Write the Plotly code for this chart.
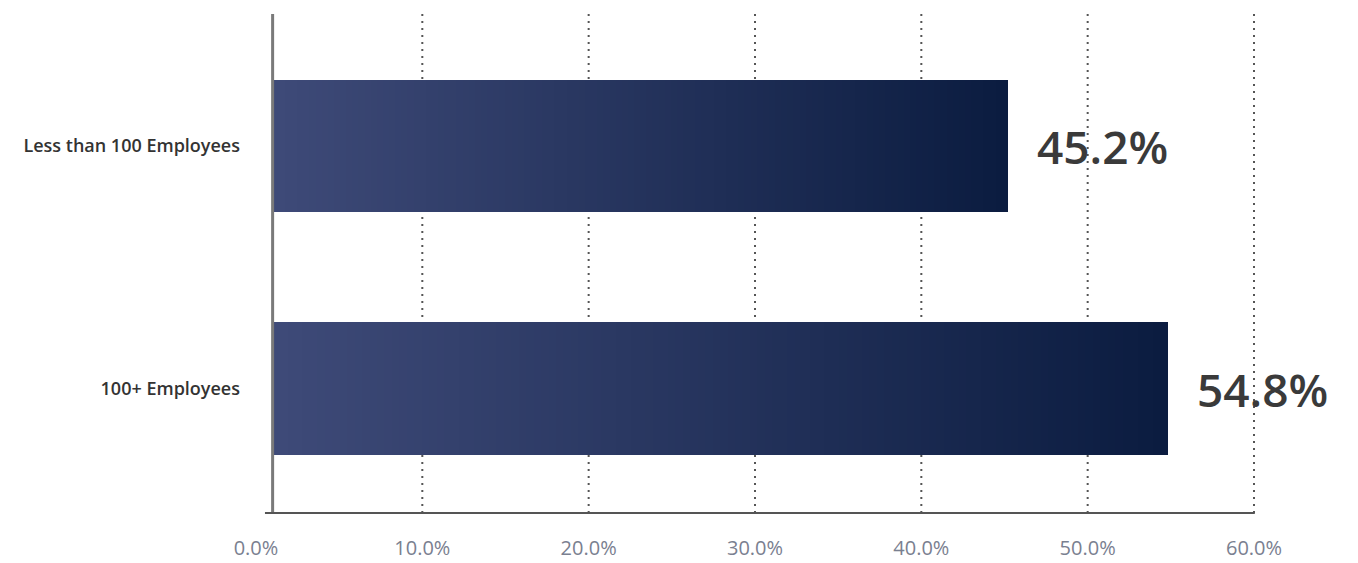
import plotly.graph_objects as go

categories = ["Less than 100 Employees", "100+ Employees"]
values = [45.2, 54.8]
tick_vals = [0, 10, 20, 30, 40, 50, 60]
tick_text = ["0.0%", "10.0%", "20.0%", "30.0%", "40.0%", "50.0%", "60.0%"]

# style constants
LEFT_RGB = (62, 74, 120)
RIGHT_RGB = (11, 28, 64)
N_SEG = 120
AXIS_X = 1.0        # where the vertical axis line sits (data units)
BAR_WIDTH = 0.545

def lerp(c1, c2, t):
    return "rgb(%d,%d,%d)" % tuple(round(a + (b - a) * t) for a, b in zip(c1, c2))

ys, xs, bases, cols = [], [], [], []
for cat, v in zip(categories, values):
    span = v - AXIS_X
    step = span / N_SEG
    for i in range(N_SEG):
        ys.append(cat)
        bases.append(AXIS_X + i * step)
        xs.append(step * 1.02 if i < N_SEG - 1 else step)
        cols.append(lerp(LEFT_RGB, RIGHT_RGB, i / (N_SEG - 1)))

fig = go.Figure()
fig.add_trace(go.Bar(
    y=ys, x=xs, base=bases, orientation="h",
    marker=dict(color=cols, line=dict(width=0)),
    width=BAR_WIDTH, hoverinfo="skip", showlegend=False,
))

# dotted gridlines (no gridline at 0)
for t in tick_vals[1:]:
    fig.add_shape(type="line", xref="x", yref="paper", x0=t, x1=t, y0=0, y1=1.004,
                  line=dict(color="#555555", width=2, dash="2px,5px"), layer="below")

# axis lines
fig.add_shape(type="line", xref="x", yref="paper", x0=AXIS_X, x1=AXIS_X, y0=0, y1=1,
              line=dict(color="#7a7a7a", width=3))
fig.add_shape(type="line", xref="x", yref="paper", x0=0.54, x1=60.05, y0=0, y1=0,
              line=dict(color="#555555", width=2))

# value labels
for cat, v in zip(categories, values):
    fig.add_annotation(x=v, y=cat, xref="x", yref="y", text="%.1f%%" % v,
                       showarrow=False, xanchor="left", yanchor="middle", xshift=27,
                       font=dict(family="Open Sans", size=46, color="#3a3a3a", weight=600))

fig.update_layout(
    width=1358, height=563,
    margin=dict(l=242, r=111, t=6, b=58, autoexpand=False),
    paper_bgcolor="white", plot_bgcolor="white",
    barmode="overlay", bargap=0,
    xaxis=dict(range=[-0.36, 60.06], tickvals=tick_vals, ticktext=tick_text,
               showgrid=False, zeroline=False, showline=False, ticks="",
               automargin=False,
               tickfont=dict(family="Open Sans", size=20, color="#7a8090"),
               ticklabelstandoff=21),
    yaxis=dict(categoryorder="array", categoryarray=categories,
               range=[1.513, -0.544], showgrid=False, zeroline=False, showline=False,
               ticks="", ticklabelstandoff=9, automargin=False,
               tickfont=dict(family="Open Sans", size=18, color="#333333", weight=600)),
)

fig.write_html("out.html")
